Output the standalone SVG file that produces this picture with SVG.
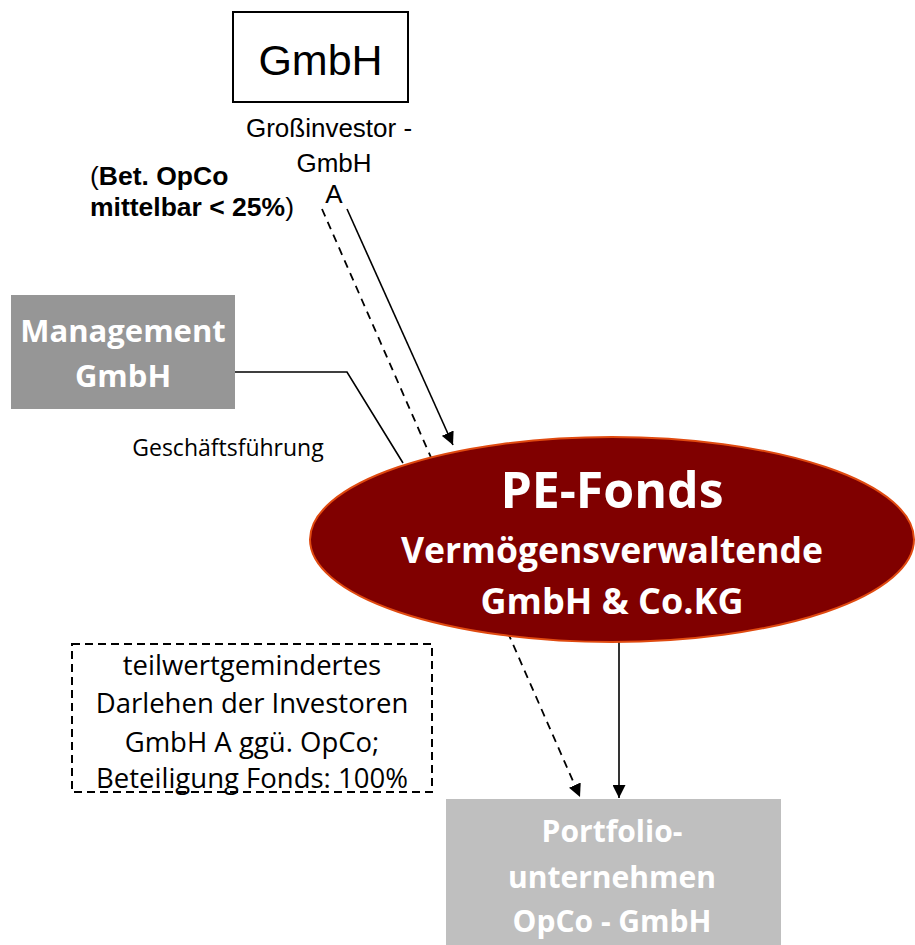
<svg xmlns="http://www.w3.org/2000/svg" width="915" height="945" viewBox="0 0 915 945">
  <style>
    .sans { font-family: "Liberation Sans", Arial, sans-serif; fill: #000; }
    .cal { font-family: "Open Sans", "Liberation Sans", sans-serif; }
    .wb { fill: #fff; font-weight: bold; }
    .conn { stroke: #000; stroke-width: 1.6; fill: none; }
    .dash { stroke-dasharray: 8 6; stroke-width: 1.8; }
  </style>
  <defs>
    <marker id="arrow" viewBox="0 0 10 10" refX="10" refY="5" markerWidth="13" markerHeight="13" markerUnits="userSpaceOnUse" orient="auto">
      <path d="M0,0 L10,5 L0,10 Z" fill="#000"/>
    </marker>
  </defs>

  <g id="investor">
    <rect x="233" y="12" width="175" height="90" fill="#fff" stroke="#000" stroke-width="2"/>
    <text class="sans" x="320.5" y="75" font-size="43" text-anchor="middle">GmbH</text>
    <text class="sans" x="329" y="137" font-size="26" text-anchor="middle">Großinvestor -</text>
    <text class="sans" x="334" y="172" font-size="26" text-anchor="middle">GmbH</text>
    <text class="sans" x="334" y="203" font-size="26" text-anchor="middle">A</text>
  </g>

  <g id="note-indirect">
    <text class="sans" x="90" y="185" font-size="26.5"><tspan>(</tspan><tspan font-weight="bold">Bet. OpCo</tspan></text>
    <text class="sans" x="90" y="216" font-size="26.5"><tspan font-weight="bold">mittelbar &lt; 25%</tspan><tspan>)</tspan></text>
  </g>

  <g id="management">
    <rect x="11" y="295" width="224" height="114" fill="#969696"/>
    <text class="cal wb" x="123" y="342" font-size="31" text-anchor="middle">Management</text>
    <text class="cal wb" x="123" y="387" font-size="31" text-anchor="middle">GmbH</text>
  </g>

  <g id="label-gf">
    <text class="cal" x="228" y="456" font-size="23" text-anchor="middle" fill="#000">Geschäftsführung</text>
  </g>

  <g id="connectors">
    <polyline class="conn" points="235,372 347,372 403,463"/>
    <line class="conn dash" x1="322" y1="209" x2="580" y2="797" marker-end="url(#arrow)"/>
    <line class="conn" x1="347" y1="209" x2="453" y2="445" marker-end="url(#arrow)"/>
    <line class="conn" x1="619" y1="642" x2="619" y2="798" marker-end="url(#arrow)"/>
  </g>

  <g id="fund">
    <ellipse cx="612" cy="539.5" rx="302" ry="102.5" fill="#800000" stroke="#E04A10" stroke-width="2"/>
    <text class="cal wb" x="612" y="508" font-size="50" text-anchor="middle">PE-Fonds</text>
    <text class="cal wb" x="612" y="563" font-size="35.5" text-anchor="middle">Vermögensverwaltende</text>
    <text class="cal wb" x="612" y="614" font-size="36" text-anchor="middle">GmbH &amp; Co.KG</text>
  </g>

  <g id="loan-note">
    <rect x="72" y="644" width="360" height="148" fill="none" stroke="#000" stroke-width="2" stroke-dasharray="8 5"/>
    <text class="cal" x="252" y="675" font-size="27.5" text-anchor="middle" fill="#000">teilwertgemindertes</text>
    <text class="cal" x="252" y="713" font-size="27.5" text-anchor="middle" fill="#000">Darlehen der Investoren</text>
    <text class="cal" x="252" y="752" font-size="27.5" text-anchor="middle" fill="#000">GmbH A ggü. OpCo;</text>
    <text class="cal" x="252" y="788" font-size="27.5" text-anchor="middle" fill="#000">Beteiligung Fonds: 100%</text>
  </g>

  <g id="portfolio">
    <rect x="446" y="799" width="335" height="146" fill="#BFBFBF"/>
    <text class="cal wb" x="612" y="842" font-size="30" text-anchor="middle">Portfolio-</text>
    <text class="cal wb" x="612" y="888" font-size="30" text-anchor="middle">unternehmen</text>
    <text class="cal wb" x="612" y="932" font-size="30" text-anchor="middle">OpCo - GmbH</text>
  </g>
</svg>
